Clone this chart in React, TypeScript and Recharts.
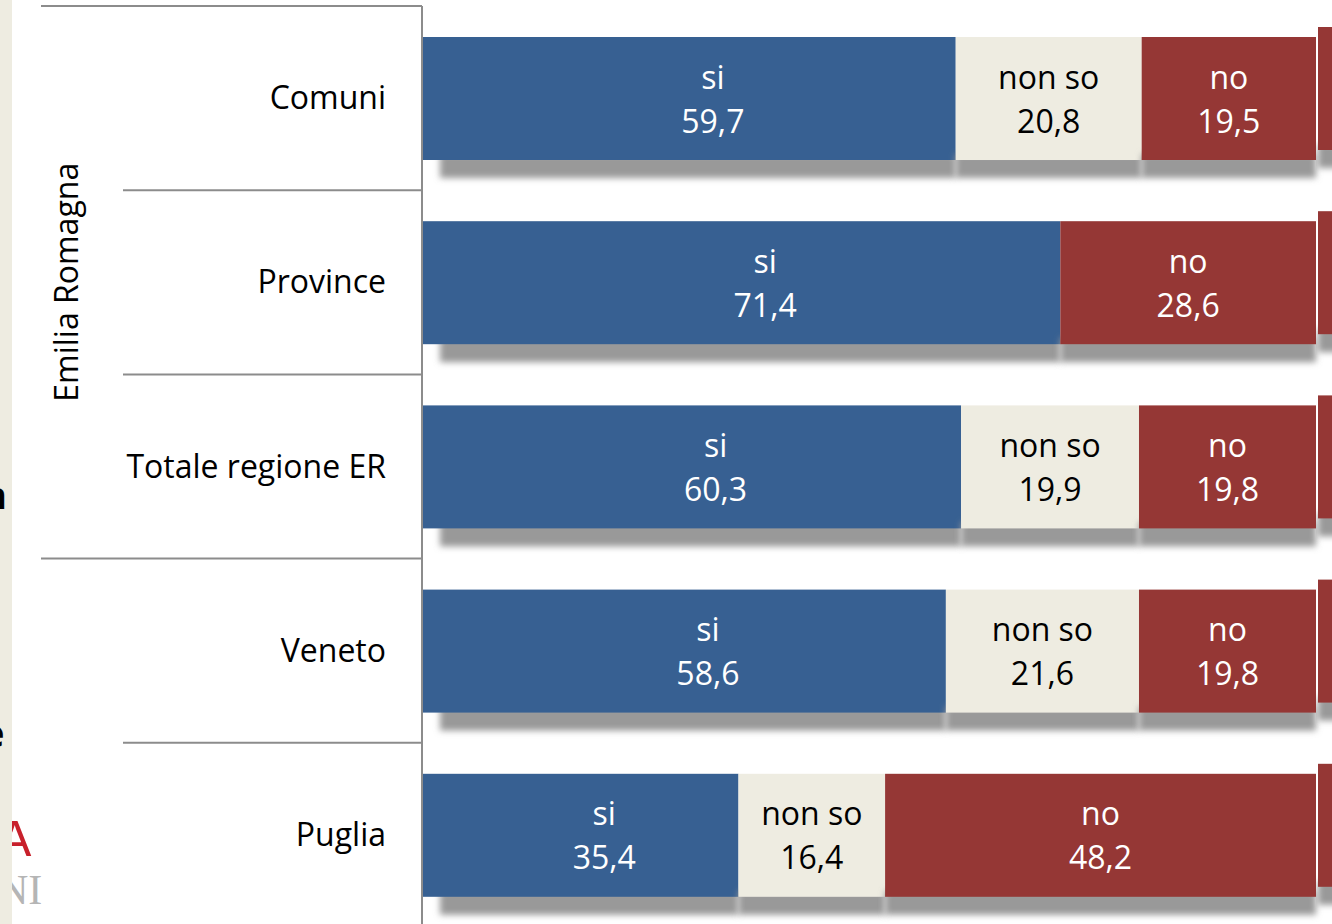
import React from "react";
import { Bar, BarChart, LabelList, XAxis, YAxis } from "recharts";

const categories = ["Comuni", "Province", "Totale regione ER", "Veneto", "Puglia"];
const groups = ["Emilia Romagna", "Emilia Romagna", "Emilia Romagna", "", ""];
const siValues = [59.7, 71.4, 60.3, 58.6, 35.4];
const nonSoValues = [20.8, 0, 19.9, 21.6, 16.4];
const noValues = [19.5, 28.6, 19.8, 19.8, 48.2];

const data = categories.map((name, i) => ({
  name,
  group: groups[i],
  si: siValues[i],
  nonso: nonSoValues[i],
  no: noValues[i],
}));

const W = 1332;
const H = 924;
const TOP = 6;
const PLOT_H = 921;
const AXIS_X = 422;
const BAND = PLOT_H / categories.length;
const FONT = "'Open Sans', 'Noto Sans', sans-serif";
const FS = 32;

const BLUE = "#376092";
const BEIGE = "#EEECE1";
const RED = "#953735";
const LINE = "#8c8c8c";

const fmt = (v: number) => v.toFixed(1).replace(".", ",");

function makeShape(first: boolean, last: boolean) {
  return (props: any) => {
    const { x, y, width, height, fill } = props;
    if (!width || width <= 0) return <g />;
    const sx = first ? x + 18 : x;
    return (
      <g>
        <rect x={sx} y={y + height - 6} width={x + width - sx} height={24} fill="#999" filter="url(#shadowBlur)" />
        {last && (
          <g>
            <rect x={x + width + 2} y={y - 10 + height - 6} width={40} height={24} fill="#999" filter="url(#shadowBlur)" />
            <rect x={x + width + 2} y={y - 10} width={40} height={height} fill={fill} />
          </g>
        )}
        <rect x={x} y={y} width={width} height={height} fill={fill} />
      </g>
    );
  };
}

function makeLabel(title: string, color: string, dx: number) {
  return (props: any) => {
    const { x, y, width, height, value } = props;
    if (!value) return null;
    const cx = x + width / 2 + dx;
    const cy = y + height / 2;
    return (
      <g fontFamily={FONT} fontSize={FS} fill={color} textAnchor="middle">
        <text x={cx} y={cy - 10}>{title}</text>
        <text x={cx} y={cy + 34}>{fmt(value)}</text>
      </g>
    );
  };
}

const CategoryTick = (props: any) => {
  const { y, payload, index } = props;
  const i = index ?? categories.indexOf(payload.value);
  const top = y - BAND / 2;
  const newGroup = i === 0 || groups[i] !== groups[i - 1];
  let groupLabel = null;
  if (groups[i] && newGroup) {
    const count = groups.filter((g) => g === groups[i]).length;
    const gy = top + (count * BAND) / 2;
    groupLabel = (
      <text
        x={78}
        y={gy}
        transform={`rotate(-90, 78, ${gy})`}
        textAnchor="middle"
        fontFamily={FONT}
        fontSize={FS}
        fill="#000"
      >
        {groups[i]}
      </text>
    );
  }
  return (
    <g>
      <line x1={newGroup ? 41 : 123} x2={AXIS_X} y1={top} y2={top} stroke={LINE} strokeWidth={2} />
      {i === categories.length - 1 && (
        <line x1={41} x2={AXIS_X} y1={top + BAND} y2={top + BAND} stroke={LINE} strokeWidth={2} />
      )}
      <text x={386} y={y + 11} textAnchor="end" fontFamily={FONT} fontSize={FS} fill="#000">
        {payload.value}
      </text>
      {groupLabel}
    </g>
  );
};

export default function App() {
  return (
    <div
      style={{
        position: "absolute",
        left: 0,
        top: 0,
        width: W,
        height: H,
        background: "#fff",
        overflow: "hidden",
      }}
    >
      <div style={{ position: "absolute", left: 0, top: 0, width: 12, height: H, background: BEIGE }} />
      <div style={{ position: "absolute", left: -18, top: 468, fontFamily: FONT, fontSize: 38, fontWeight: 700 }}>n</div>
      <div style={{ position: "absolute", left: -18, top: 706, fontFamily: FONT, fontSize: 38, fontWeight: 700 }}>e</div>
      <div style={{ position: "absolute", left: 12, top: 810, width: 30, height: 110, overflow: "hidden" }}>
        <div style={{ position: "absolute", left: -14, top: 0, fontFamily: "'Liberation Sans', sans-serif", fontSize: 50, color: "#c8202b" }}>A</div>
        <div style={{ position: "absolute", left: -14, top: 56, fontFamily: "'Liberation Serif', serif", fontSize: 42, color: "#b5b5b5" }}>NI</div>
      </div>
      <BarChart
        width={W}
        height={H}
        data={data}
        layout="vertical"
        margin={{ top: TOP, right: 16, bottom: H - TOP - PLOT_H, left: 0 }}
        barSize={123}
        style={{ position: "absolute", left: 0, top: 0 }}
      >
        <defs>
          <filter id="shadowBlur" x="-5%" y="-60%" width="110%" height="220%">
            <feGaussianBlur stdDeviation="3" />
          </filter>
        </defs>
        <XAxis type="number" domain={[0, 100]} hide />
        <YAxis
          type="category"
          dataKey="name"
          width={AXIS_X}
          tickLine={false}
          axisLine={{ stroke: LINE, strokeWidth: 2 }}
          tick={<CategoryTick />}
          interval={0}
        />
        <Bar dataKey="si" stackId="a" fill={BLUE} isAnimationActive={false} shape={makeShape(true, false)}>
          <LabelList dataKey="si" content={makeLabel("si", "#fff", 24)} />
        </Bar>
        <Bar dataKey="nonso" stackId="a" fill={BEIGE} isAnimationActive={false} shape={makeShape(false, false)}>
          <LabelList dataKey="nonso" content={makeLabel("non so", "#000", 0)} />
        </Bar>
        <Bar dataKey="no" stackId="a" fill={RED} isAnimationActive={false} shape={makeShape(false, true)}>
          <LabelList dataKey="no" content={makeLabel("no", "#fff", 0)} />
        </Bar>
      </BarChart>
    </div>
  );
}
